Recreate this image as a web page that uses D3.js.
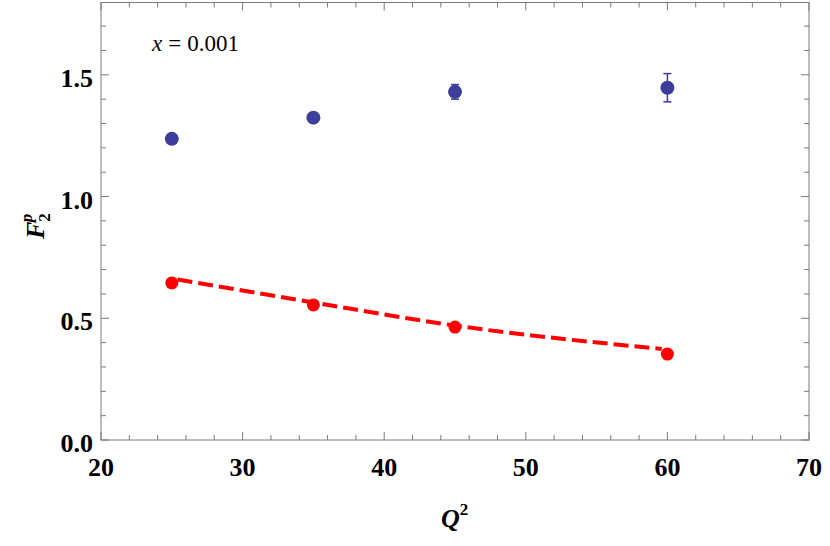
<!DOCTYPE html>
<html><head><meta charset="utf-8">
<script src="https://cdn.jsdelivr.net/npm/d3@7"></script>
<style>body{margin:0;background:#fff}svg{display:block}</style>
</head><body>
<svg id="c" width="830" height="546"></svg>
<script>
const q2 = [25, 35, 45, 60];
const blueVals = [1.237, 1.324, 1.430, 1.447];
const blueErr = [0.008, 0.010, 0.030, 0.058];
const redVals = [0.645, 0.555, 0.464, 0.353];
const lineQ2 = [25.4, 35, 45, 59.6];
const lineVals = [0.659, 0.565, 0.470, 0.374];
const xMajor = [20, 30, 40, 50, 60, 70];
const yMajor = [0.0, 0.5, 1.0, 1.5];

const svg = d3.select("#c");
const L = 101, R = 809, T = 2.5, B = 440;
const x = d3.scaleLinear().domain([20, 70]).range([L, R]);
const y = d3.scaleLinear().domain([0, 1.797]).range([B, T]);
const gray = "#7a7a7a";

svg.append("rect").attr("x", L).attr("y", T).attr("width", R - L).attr("height", B - T)
  .attr("fill", "none").attr("stroke", gray).attr("stroke-width", 1);

const xMinor = d3.range(20, 70.001, 2).filter(v => !xMajor.includes(v));
const yMinor = d3.range(0, 1.79, 0.1).map(v => +v.toFixed(2)).filter(v => !yMajor.includes(v));

function ticks(vals, len) {
  vals.forEach(v => {
    const px = x(v);
    svg.append("line").attr("x1", px).attr("x2", px).attr("y1", B).attr("y2", B - len).attr("stroke", gray);
    svg.append("line").attr("x1", px).attr("x2", px).attr("y1", T).attr("y2", T + len).attr("stroke", gray);
  });
}
function yticks(vals, len) {
  vals.forEach(v => {
    const py = y(v);
    svg.append("line").attr("y1", py).attr("y2", py).attr("x1", L).attr("x2", L + len).attr("stroke", gray);
    svg.append("line").attr("y1", py).attr("y2", py).attr("x1", R).attr("x2", R - len).attr("stroke", gray);
  });
}
ticks(xMajor, 8); ticks(xMinor, 5);
yticks(yMajor, 8); yticks(yMinor, 5);

const font = "Liberation Serif, Times New Roman, serif";
xMajor.forEach(v => {
  svg.append("text").attr("x", x(v)).attr("y", 476).attr("text-anchor", "middle")
    .attr("font-family", font).attr("font-weight", "bold").attr("font-size", 26).text(v);
});
yMajor.forEach(v => {
  svg.append("text").attr("x", 93).attr("y", y(v) + 12).attr("text-anchor", "end")
    .attr("font-family", font).attr("font-weight", "bold").attr("font-size", 26).text(v.toFixed(1));
});

const xl = svg.append("text").attr("x", 441).attr("y", 527).attr("font-family", font)
  .attr("font-weight", "bold").attr("font-style", "italic").attr("font-size", 26);
xl.append("tspan").text("Q");
xl.append("tspan").attr("font-size", 17).attr("dy", -12).attr("font-style", "normal").text("2");

const yl = svg.append("text").attr("transform", "translate(44,239) rotate(-90)")
  .attr("font-family", font).attr("font-weight", "bold").attr("font-style", "italic").attr("font-size", 26);
yl.append("tspan").text("F");
yl.append("tspan").attr("font-size", 17).attr("dy", 6).attr("font-style", "normal").text("2");
yl.append("tspan").attr("font-size", 17).attr("dx", -9).attr("dy", -18).text("p");

const ann = svg.append("text").attr("x", 152).attr("y", 51).attr("font-family", font).attr("font-size", 23);
ann.append("tspan").attr("font-style", "italic").text("x");
ann.append("tspan").attr("dx", 6).text("=");
ann.append("tspan").attr("dx", 6).text("0.001");

const line = d3.line().x(d => x(d[0])).y(d => y(d[1])).curve(d3.curveMonotoneX);
svg.append("path").datum(lineQ2.map((q, i) => [q, lineVals[i]])).attr("d", line)
  .attr("fill", "none").attr("stroke", "#ff0000").attr("stroke-width", 4).attr("stroke-dasharray", "15,6");

svg.selectAll(".rp").data(q2).enter().append("circle")
  .attr("cx", d => x(d)).attr("cy", (d, i) => y(redVals[i])).attr("r", 6.5).attr("fill", "#ff0000");

const blue = "#3d3d9c";
q2.forEach((q, i) => {
  const px = x(q), y1 = y(blueVals[i] + blueErr[i]), y2 = y(blueVals[i] - blueErr[i]);
  svg.append("line").attr("x1", px).attr("x2", px).attr("y1", y1).attr("y2", y2).attr("stroke", blue).attr("stroke-width", 1.5);
  [y1, y2].forEach(yy => svg.append("line").attr("x1", px - 4).attr("x2", px + 4).attr("y1", yy).attr("y2", yy)
    .attr("stroke", blue).attr("stroke-width", 1.5));
});
svg.selectAll(".bp").data(q2).enter().append("circle")
  .attr("cx", d => x(d)).attr("cy", (d, i) => y(blueVals[i])).attr("r", 7).attr("fill", blue);
</script>
</body></html>
